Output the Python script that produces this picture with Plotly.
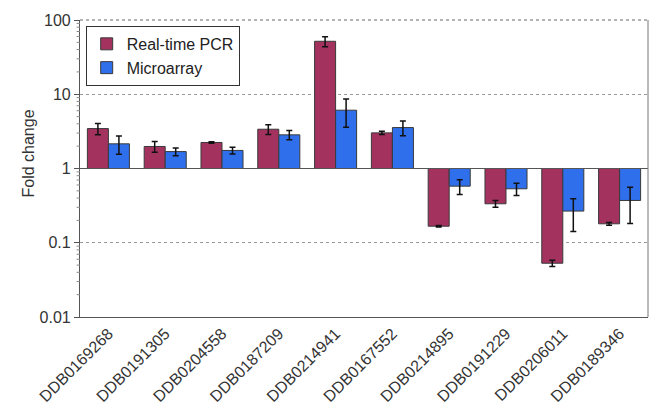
import plotly.graph_objects as go

# Genes and fold-change values (real-time PCR vs microarray)
genes = ["DDB0169268", "DDB0191305", "DDB0204558", "DDB0187209", "DDB0214941",
         "DDB0167552", "DDB0214895", "DDB0191229", "DDB0206011", "DDB0189346"]
pcr_fold = [3.45, 1.98, 2.24, 3.38, 51.7, 3.02, 0.167, 0.335, 0.053, 0.18]
pcr_err = [0.6, 0.33, 0.05, 0.5, 8.0, 0.15, 0.004, 0.035, 0.005, 0.008]
array_fold = [2.15, 1.69, 1.75, 2.84, 6.1, 3.56, 0.578, 0.533, 0.267, 0.371]
array_err = [0.6, 0.2, 0.18, 0.4, 2.5, 0.8, 0.13, 0.1, 0.125, 0.19]

BASELINE = 1.0
FONT = "Liberation Sans, Arial, sans-serif"

# minor log ticks at 2..9 of every decade
minor_ticks = [m * 10.0 ** e for e in range(-2, 2) for m in range(2, 10)]


def bar_trace(name, values, errors, color):
    # bars grow up or down from a fold change of 1
    return go.Bar(
        name=name,
        x=genes,
        y=[v - BASELINE for v in values],
        base=BASELINE,
        marker=dict(color=color, line=dict(color="#3a3a3a", width=1)),
        error_y=dict(type="data", array=errors, visible=True,
                     color="#111111", thickness=1.5, width=3),
    )


fig = go.Figure()
fig.add_trace(bar_trace("Real-time PCR", pcr_fold, pcr_err, "#A3325F"))
fig.add_trace(bar_trace("Microarray", array_fold, array_err, "#2F6FEB"))

# solid reference line at fold change = 1
fig.add_shape(type="line", xref="paper", x0=0, x1=1, y0=BASELINE, y1=BASELINE,
              line=dict(color="#555555", width=1.2), layer="above")

# short minor ticks on the outside of the log axis
for v in minor_ticks:
    fig.add_shape(type="line", xref="paper", yref="y", x0=-0.006, x1=0, y0=v, y1=v,
                  line=dict(color="#888888", width=1))

fig.update_layout(
    width=650, height=405,
    margin=dict(l=80, r=2, t=20, b=88),
    paper_bgcolor="white", plot_bgcolor="white",
    font=dict(family=FONT, size=16, color="#333333"),
    barmode="group", bargap=0.26, bargroupgap=0,
    showlegend=True,
    legend=dict(x=0.01, y=0.98, xanchor="left", yanchor="top",
                bgcolor="white", bordercolor="#333333", borderwidth=1,
                font=dict(size=16, color="#222222"),
                tracegroupgap=2),
    yaxis=dict(
        type="log", range=[-2, 2], automargin=False,
        tickvals=[0.01, 0.1, 1, 10, 100],
        ticktext=["0.01", "0.1", "1", "10", "100"],
        ticks="outside", ticklen=5, tickcolor="#555555", tickwidth=1,
        showline=True, linecolor="#555555", linewidth=1.2,
        showgrid=True, gridcolor="#999999", griddash="dot", gridwidth=1,
        tickfont=dict(size=16),
    ),
    xaxis=dict(
        tickangle=-45, tickfont=dict(size=16), automargin=False,
        showline=True, linecolor="#555555", linewidth=1.2,
        ticks="", showgrid=False,
    ),
)

# y-axis title
fig.add_annotation(text="Fold change", textangle=-90, showarrow=False,
                   xref="paper", yref="paper", x=-0.09, y=0.55,
                   xanchor="center", yanchor="middle",
                   font=dict(size=16, color="#333333"))

# top and right frame edges
fig.add_shape(type="line", xref="paper", yref="paper", x0=0, x1=1, y0=1, y1=1,
              line=dict(color="#666666", width=1, dash="dot"))
fig.add_shape(type="line", xref="paper", yref="paper", x0=1, x1=1, y0=0, y1=1,
              line=dict(color="#777777", width=1))

fig.write_html("out.html")
